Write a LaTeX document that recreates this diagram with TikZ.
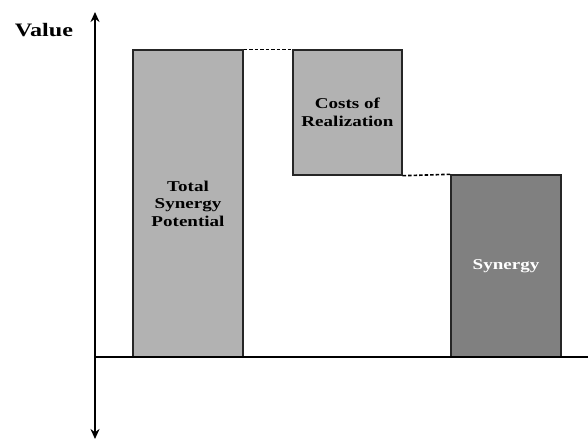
\documentclass[tikz,border=0pt]{standalone}
\usepackage{fontspec}
\setmainfont[FakeStretch=1.27]{Liberation Serif}
\usepackage{tikz}
\usetikzlibrary{arrows.meta}

\begin{document}
\begin{tikzpicture}[x=1pt, y=-1pt, >={Stealth[length=10pt,width=9pt]},
  font=\fontsize{15}{17.5}\selectfont\bfseries,
  bar/.style={draw=black!85, line width=1.4pt, fill=black!30, align=center, inner sep=0pt},
  link/.style={line width=1.6pt, dash pattern=on 3.5pt off 2pt}]
\useasboundingbox (0,0) rectangle (588,439);
\node[bar, minimum width=110pt, minimum height=307pt] (total) at (188,203.5) {Total\\Synergy\\Potential};
\node[bar, minimum width=109pt, minimum height=125pt] (costs) at (347.5,112.5) {Costs of\\Realization};
\node[bar, fill=black!50, text=white, minimum width=110pt, minimum height=182pt] (syn) at (506,266) {Synergy};
\coordinate (ytop) at (95,12);
\coordinate (ybot) at (95,439);
\coordinate (x0) at (95,357);
\coordinate (xend) at (588,357);
\node[font=\fontsize{19}{22}\selectfont\bfseries] (value) at (44,30) {Value};
\draw[line width=2.8pt, <->] (ybot) -- (ytop);
\draw[line width=1.3pt] (x0) -- (xend);
\draw[link] (total.north east) -- (costs.north west);
\draw[link] (costs.south east) -- (syn.north west);
\end{tikzpicture}
\end{document}
